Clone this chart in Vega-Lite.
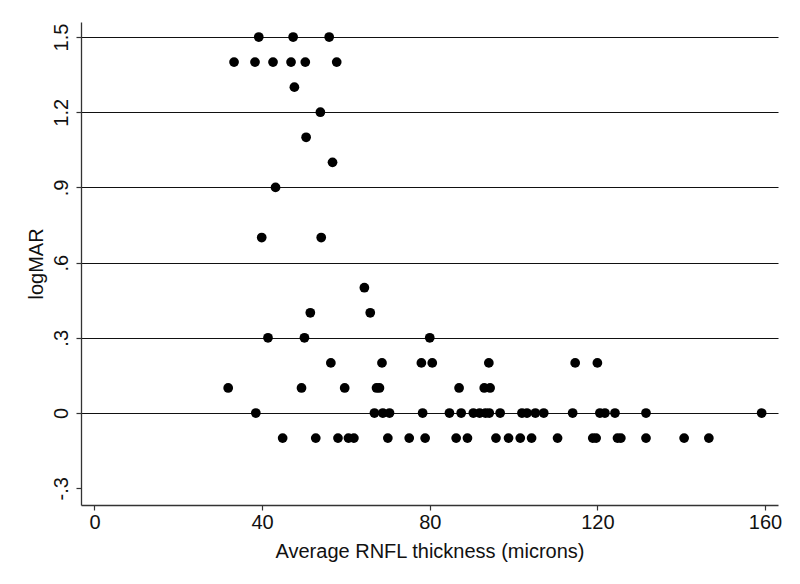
{
  "$schema": "https://vega.github.io/schema/vega-lite/v6.json",
  "width": 697,
  "height": 483,
  "autosize": "none",
  "padding": {"left": 81, "top": 22, "right": 22, "bottom": 79},
  "background": "white",
  "config": {
    "view": {"stroke": null},
    "font": "Liberation Sans",
    "axis": {
      "labelFont": "Liberation Sans",
      "titleFont": "Liberation Sans",
      "labelColor": "#111",
      "titleColor": "#111",
      "titleFontWeight": "normal",
      "domainColor": "#333",
      "domainWidth": 1.3,
      "tickColor": "#333",
      "tickWidth": 1.2,
      "tickSize": 5
    }
  },
  "data": {
    "values": [
      {"rnfl": 39.2, "logmar": 1.5}, {"rnfl": 47.4, "logmar": 1.5}, {"rnfl": 56.0, "logmar": 1.5},
      {"rnfl": 33.3, "logmar": 1.4}, {"rnfl": 38.3, "logmar": 1.4}, {"rnfl": 42.6, "logmar": 1.4},
      {"rnfl": 46.9, "logmar": 1.4}, {"rnfl": 50.3, "logmar": 1.4}, {"rnfl": 57.8, "logmar": 1.4},
      {"rnfl": 47.7, "logmar": 1.3},
      {"rnfl": 53.9, "logmar": 1.2},
      {"rnfl": 50.5, "logmar": 1.1},
      {"rnfl": 56.8, "logmar": 1.0},
      {"rnfl": 43.2, "logmar": 0.9},
      {"rnfl": 39.9, "logmar": 0.7}, {"rnfl": 54.1, "logmar": 0.7},
      {"rnfl": 64.4, "logmar": 0.5},
      {"rnfl": 51.5, "logmar": 0.4}, {"rnfl": 65.8, "logmar": 0.4},
      {"rnfl": 41.4, "logmar": 0.3}, {"rnfl": 50.1, "logmar": 0.3}, {"rnfl": 80.0, "logmar": 0.3},
      {"rnfl": 56.4, "logmar": 0.2}, {"rnfl": 68.6, "logmar": 0.2}, {"rnfl": 78.0, "logmar": 0.2},
      {"rnfl": 80.6, "logmar": 0.2}, {"rnfl": 94.1, "logmar": 0.2}, {"rnfl": 114.7, "logmar": 0.2},
      {"rnfl": 120.0, "logmar": 0.2},
      {"rnfl": 31.9, "logmar": 0.1}, {"rnfl": 49.4, "logmar": 0.1}, {"rnfl": 59.7, "logmar": 0.1},
      {"rnfl": 67.3, "logmar": 0.1}, {"rnfl": 68.0, "logmar": 0.1}, {"rnfl": 87.0, "logmar": 0.1},
      {"rnfl": 93.0, "logmar": 0.1}, {"rnfl": 94.4, "logmar": 0.1},
      {"rnfl": 38.5, "logmar": 0}, {"rnfl": 66.8, "logmar": 0}, {"rnfl": 68.8, "logmar": 0},
      {"rnfl": 70.4, "logmar": 0}, {"rnfl": 78.3, "logmar": 0}, {"rnfl": 84.7, "logmar": 0},
      {"rnfl": 87.5, "logmar": 0}, {"rnfl": 90.4, "logmar": 0}, {"rnfl": 91.9, "logmar": 0},
      {"rnfl": 93.3, "logmar": 0}, {"rnfl": 94.2, "logmar": 0}, {"rnfl": 96.8, "logmar": 0},
      {"rnfl": 102.0, "logmar": 0}, {"rnfl": 103.2, "logmar": 0}, {"rnfl": 105.2, "logmar": 0},
      {"rnfl": 107.2, "logmar": 0}, {"rnfl": 114.1, "logmar": 0}, {"rnfl": 120.6, "logmar": 0},
      {"rnfl": 121.8, "logmar": 0}, {"rnfl": 124.2, "logmar": 0}, {"rnfl": 131.6, "logmar": 0},
      {"rnfl": 159.2, "logmar": 0},
      {"rnfl": 44.9, "logmar": -0.1}, {"rnfl": 52.8, "logmar": -0.1}, {"rnfl": 58.1, "logmar": -0.1},
      {"rnfl": 60.6, "logmar": -0.1}, {"rnfl": 61.9, "logmar": -0.1}, {"rnfl": 70.0, "logmar": -0.1},
      {"rnfl": 75.1, "logmar": -0.1}, {"rnfl": 78.9, "logmar": -0.1}, {"rnfl": 86.3, "logmar": -0.1},
      {"rnfl": 89.0, "logmar": -0.1}, {"rnfl": 95.8, "logmar": -0.1}, {"rnfl": 98.8, "logmar": -0.1},
      {"rnfl": 101.6, "logmar": -0.1}, {"rnfl": 104.3, "logmar": -0.1}, {"rnfl": 110.5, "logmar": -0.1},
      {"rnfl": 118.9, "logmar": -0.1}, {"rnfl": 119.7, "logmar": -0.1}, {"rnfl": 124.8, "logmar": -0.1},
      {"rnfl": 125.6, "logmar": -0.1}, {"rnfl": 131.6, "logmar": -0.1}, {"rnfl": 140.7, "logmar": -0.1},
      {"rnfl": 146.6, "logmar": -0.1}
    ]
  },
  "mark": {"type": "point", "filled": true, "color": "#000", "opacity": 1, "size": 95, "strokeWidth": 0},
  "encoding": {
    "x": {
      "field": "rnfl", "type": "quantitative",
      "scale": {"domain": [-3.22, 163.1], "nice": false, "zero": false},
      "axis": {
        "values": [0, 40, 80, 120, 160],
        "title": "Average RNFL thickness (microns)",
        "labelFontSize": 20, "titleFontSize": 20,
        "labelPadding": 2, "titlePadding": 9,
        "grid": false
      }
    },
    "y": {
      "field": "logmar", "type": "quantitative",
      "scale": {"domain": [-0.367, 1.56], "nice": false, "zero": false},
      "axis": {
        "values": [-0.3, 0, 0.3, 0.6, 0.9, 1.2, 1.5],
        "title": "logMAR",
        "labelExpr": "datum.value == 0 ? '0' : (datum.value < 0 ? '-' : '') + replace(format(abs(datum.value), '.1f'), '0.', '.')",
        "labelAngle": -90,
        "labelAlign": "center",
        "labelBaseline": "bottom",
        "labelFontSize": 20, "titleFontSize": 20,
        "labelPadding": 5, "titlePadding": 5,
        "grid": true,
        "gridColor": {"condition": {"test": "datum.value < -0.1", "value": "transparent"}, "value": "#111"},
        "gridWidth": 1.2
      }
    }
  }
}
